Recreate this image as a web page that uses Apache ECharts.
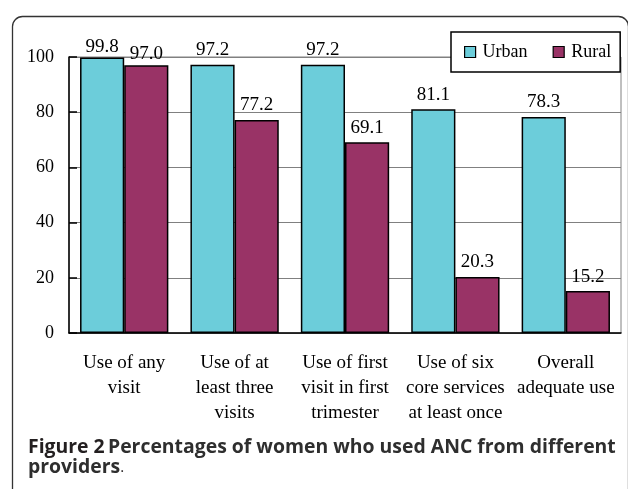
<!DOCTYPE html>
<html><head><meta charset="utf-8">
<script src="https://cdn.jsdelivr.net/npm/echarts@6/dist/echarts.min.js"></script>
<style>html,body{margin:0;padding:0;background:#fff}#c{width:628px;height:489px}</style>
</head><body><div id="c"></div>
<script>
const categories = ["Use of any\nvisit", "Use of at\nleast three\nvisits", "Use of first\nvisit in first\ntrimester", "Use of six\ncore services\nat least once", "Overall\nadequate use"];
const urban = [99.8, 97.2, 97.2, 81.1, 78.3];
const rural = [97.0, 77.2, 69.1, 20.3, 15.2];
const yTicks = [0, 20, 40, 60, 80, 100];
const seriesNames = ["Urban", "Rural"];
const captionBold = "Figure 2";
const captionLine1 = "Percentages of women who used ANC from different";
const captionLine2 = "providers";

const chart = echarts.init(document.getElementById('c'), null, {renderer: 'canvas'});
const serif = '"Liberation Serif", "Times New Roman", serif';
const sans = '"Open Sans", sans-serif';
const lbl = {show: true, position: 'top', distance: 5, fontFamily: serif, fontSize: 19, color: '#000', formatter: p => p.value.toFixed(1)};
// first group labels sit closer to the bars (limited room at the top)
const withLabel = (arr, firstDist) => arr.map((v, i) => i === 0 ? {value: v, label: {distance: firstDist}} : v);
chart.setOption({
  animation: false,
  grid: {left: 69, right: 7, top: 57, bottom: 156, show: true, borderColor: '#808080', borderWidth: 1, backgroundColor: 'transparent'},
  legend: {
    left: 451, top: 32, padding: [11, 9, 11, 13], itemGap: 25, itemWidth: 11, itemHeight: 11,
    borderColor: '#000', borderWidth: 1.5, borderRadius: 0, backgroundColor: '#fff',
    icon: 'rect', textStyle: {fontFamily: serif, fontSize: 18, color: '#000', padding: [0,0,0,2]},
    itemStyle: {borderColor: '#000', borderWidth: 1.2},
    data: seriesNames
  },
  xAxis: {
    type: 'category', data: categories,
    axisLine: {lineStyle: {color: '#000', width: 1.5}},
    axisTick: {inside: true, length: 6, lineStyle: {color: '#000', width: 1.5}},
    axisLabel: {fontFamily: serif, fontSize: 19, color: '#000', lineHeight: 25, margin: 18, interval: 0}
  },
  yAxis: {
    type: 'value', min: yTicks[0], max: yTicks[yTicks.length-1], interval: 20,
    axisLine: {show: true, lineStyle: {color: '#000', width: 1.5}},
    axisTick: {show: true, inside: true, length: 8, lineStyle: {color: '#000', width: 1.5}},
    axisLabel: {fontFamily: serif, fontSize: 18, color: '#000', margin: 15},
    splitLine: {lineStyle: {color: '#808080', width: 1}}
  },
  series: [
    {name: seriesNames[0], type: 'bar', data: withLabel(urban, 1), barCategoryGap: '20%', barGap: '0%',
     itemStyle: {color: '#6ccdda', borderColor: '#000', borderWidth: 1.5}, label: lbl},
    {name: seriesNames[1], type: 'bar', data: withLabel(rural, 2),
     itemStyle: {color: '#993366', borderColor: '#000', borderWidth: 1.5}, label: lbl}
  ],
  graphic: [
    {type: 'rect', left: 10, top: 14, z: -10, silent: true,
     shape: {width: 616, height: 520, r: 10}, style: {fill: 'none', stroke: '#333', lineWidth: 1.3}},
    {type: 'text', left: 28, top: 438, z: 10,
     style: {text: '{b|' + captionBold + '} {n|' + captionLine1 + '}', rich: {
       b: {fontFamily: sans, fontWeight: 700, fontSize: 19.4, fill: '#231f20'},
       n: {fontFamily: sans, fontWeight: 700, fontSize: 19.4, fill: '#2e2e2e'}}}},
    {type: 'text', left: 28, top: 458, z: 10,
     style: {text: '{n|' + captionLine2 + '}{p|.}', rich: {
       n: {fontFamily: sans, fontWeight: 700, fontSize: 19.4, fill: '#2e2e2e'},
       p: {fontFamily: sans, fontWeight: 400, fontSize: 15, fill: '#231f20'}}}}
  ]
});
</script></body></html>
